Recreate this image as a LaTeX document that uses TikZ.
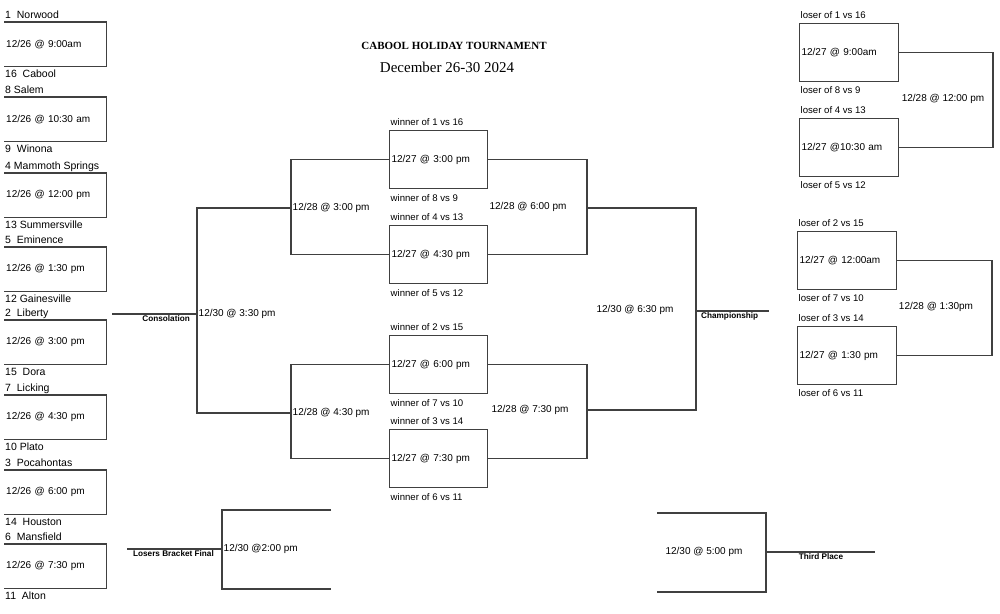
\documentclass[tikz,border=0pt]{standalone}
\usepackage{fontspec}
\setmainfont{Liberation Sans}
\newfontfamily\serifhead{Liberation Serif}
\usepackage{tikz}
\usetikzlibrary{positioning}
\definecolor{bracketgray}{HTML}{404040}

\begin{document}
\begin{tikzpicture}[
        x=1pt, y=-1pt,
        slot/.style={rectangle, minimum height=44pt, text width=98pt, inner sep=2pt, align=left, font=\fontsize{10}{12}\selectfont},
        match/.style={rectangle, draw=bracketgray, line width=1.1pt, minimum height=58pt, text width=94pt, inner sep=2pt, align=left, font=\fontsize{10}{12}\selectfont},
        team/.style={inner sep=1pt, text height=8pt, text depth=2.5pt, font=\fontsize{10.5}{12}\selectfont},
        feed/.style={inner sep=1pt, text height=7.2pt, text depth=2.3pt, font=\fontsize{9.6}{11}\selectfont},
        game/.style={inner sep=1.5pt, font=\fontsize{10}{12}\selectfont},
        tag/.style={inner sep=1pt, text height=6pt, text depth=1.7pt, font=\bfseries\fontsize{8.2}{10}\selectfont},
        line/.style={draw=bracketgray, line width=1.1pt}
    ]

    \useasboundingbox (0,0) rectangle (1000,613);

    % Title
    \node [font=\serifhead\bfseries\fontsize{11}{13}\selectfont] (title) at (454,46) {CABOOL HOLIDAY TOURNAMENT};
    \node [font=\serifhead\fontsize{15}{18}\selectfont] (dates) at (447,67) {December 26-30 2024};

    % First round
    \node [slot, anchor=north west] (r1) at (4,22) {12/26 @ 9:00am};
    \node [slot, anchor=north west] (r2) at (4,97) {12/26 @ 10:30 am};
    \node [slot, anchor=north west] (r3) at (4,173) {12/26 @ 12:00 pm};
    \node [slot, anchor=north west] (r4) at (4,247) {12/26 @ 1:30 pm};
    \node [slot, anchor=north west] (r5) at (4,320) {12/26 @ 3:00 pm};
    \node [slot, anchor=north west] (r6) at (4,395) {12/26 @ 4:30 pm};
    \node [slot, anchor=north west] (r7) at (4,470) {12/26 @ 6:00 pm};
    \node [slot, anchor=north west] (r8) at (4,544) {12/26 @ 7:30 pm};

    % Teams
    \node [team, above right=0pt and 0pt of r1.north west] (norwood) {1~~Norwood};
    \node [team, below right=1.5pt and 0pt of r1.south west] (cabool) {16~~Cabool};
    \node [team, above right=0pt and 0pt of r2.north west] (salem) {8 Salem};
    \node [team, below right=1.5pt and 0pt of r2.south west] (winona) {9~~Winona};
    \node [team, above right=0pt and 0pt of r3.north west] (mammoth) {4 Mammoth Springs};
    \node [team, below right=1.5pt and 0pt of r3.south west] (summersville) {13 Summersville};
    \node [team, above right=0pt and 0pt of r4.north west] (eminence) {5~~Eminence};
    \node [team, below right=1.5pt and 0pt of r4.south west] (gainesville) {12 Gainesville};
    \node [team, above right=0pt and 0pt of r5.north west] (liberty) {2~~Liberty};
    \node [team, below right=1.5pt and 0pt of r5.south west] (dora) {15~~Dora};
    \node [team, above right=0pt and 0pt of r6.north west] (licking) {7~~Licking};
    \node [team, below right=1.5pt and 0pt of r6.south west] (plato) {10 Plato};
    \node [team, above right=0pt and 0pt of r7.north west] (pocahontas) {3~~Pocahontas};
    \node [team, below right=1.5pt and 0pt of r7.south west] (houston) {14~~Houston};
    \node [team, above right=0pt and 0pt of r8.north west] (mansfield) {6~~Mansfield};
    \node [team, below right=1.5pt and 0pt of r8.south west] (alton) {11~~Alton};

    % Winners, 12/27
    \node [match, anchor=north west] (wA) at (389,130) {12/27 @ 3:00 pm};
    \node [match, anchor=north west] (wB) at (389,225) {12/27 @ 4:30 pm};
    \node [match, anchor=north west] (wC) at (389,335) {12/27 @ 6:00 pm};
    \node [match, anchor=north west] (wD) at (389,429) {12/27 @ 7:30 pm};
    \node [feed, above right=1.5pt and 0.5pt of wA.north west] (wA1) {winner of 1 vs 16};
    \node [feed, below right=3.5pt and 0.5pt of wA.south west] (wA2) {winner of 8 vs 9};
    \node [feed, above right=1.5pt and 0.5pt of wB.north west] (wB1) {winner of 4 vs 13};
    \node [feed, below right=3.5pt and 0.5pt of wB.south west] (wB2) {winner of 5 vs 12};
    \node [feed, above right=1.5pt and 0.5pt of wC.north west] (wC1) {winner of 2 vs 15};
    \node [feed, below right=3.5pt and 0.5pt of wC.south west] (wC2) {winner of 7 vs 10};
    \node [feed, above right=1.5pt and 0.5pt of wD.north west] (wD1) {winner of 3 vs 14};
    \node [feed, below right=3.5pt and 0.5pt of wD.south west] (wD2) {winner of 6 vs 11};

    % Losers, 12/27
    \node [match, text width=95pt, anchor=north west] (lA) at (799,23) {12/27 @ 9:00am};
    \node [match, text width=95pt, anchor=north west] (lB) at (799,118) {12/27 @10:30 am};
    \node [match, text width=95pt, anchor=north west] (lC) at (797,231) {12/27 @ 12:00am};
    \node [match, text width=95pt, anchor=north west] (lD) at (797,326) {12/27 @ 1:30 pm};
    \node [feed, above right=1.5pt and 0.5pt of lA.north west] (lA1) {loser of 1 vs 16};
    \node [feed, below right=3pt and 0.5pt of lA.south west] (lA2) {loser of 8 vs 9};
    \node [feed, above right=1.5pt and 0.5pt of lB.north west] (lB1) {loser of 4 vs 13};
    \node [feed, below right=3pt and 0.5pt of lB.south west] (lB2) {loser of 5 vs 12};
    \node [feed, above right=1.5pt and 0.5pt of lC.north west] (lC1) {loser of 2 vs 15};
    \node [feed, below right=3pt and 0.5pt of lC.south west] (lC2) {loser of 7 vs 10};
    \node [feed, above right=1.5pt and 0.5pt of lD.north west] (lD1) {loser of 3 vs 14};
    \node [feed, below right=3pt and 0.5pt of lD.south west] (lD2) {loser of 6 vs 11};

    % Later games
    \node [game, anchor=west] (cs1) at (291,208) {12/28 @ 3:00 pm};
    \node [game, anchor=west] (cs2) at (291,413) {12/28 @ 4:30 pm};
    \node [game, anchor=west] (cf) at (197,314) {12/30 @ 3:30 pm};
    \node [game] (sf1) at (528,207) {12/28 @ 6:00 pm};
    \node [game] (sf2) at (530,410) {12/28 @ 7:30 pm};
    \node [game] (final) at (635,310) {12/30 @ 6:30 pm};
    \node [game, anchor=west] (lf) at (222,549) {12/30 @2:00 pm};
    \node [game] (third) at (704,552) {12/30 @ 5:00 pm};
    \node [game] (lq1) at (943,99) {12/28 @ 12:00 pm};
    \node [game] (lq2) at (936,307) {12/28 @ 1:30pm};

    \coordinate (sf1j) at (587,208);
    \coordinate (sf2j) at (587,410);
    \coordinate (finalj) at (696,311);
    \coordinate (finalend) at (769,311);
    \coordinate (cfend) at (112,314);
    \coordinate (lftop) at (331,510);
    \coordinate (lfbot) at (331,589);
    \coordinate (lfend) at (127,549);
    \coordinate (thirdtop) at (657,513);
    \coordinate (thirdbot) at (657,592);
    \coordinate (thirdj) at (766,552);
    \coordinate (thirdend) at (875,552);
    \coordinate (lq1j) at (993,100);
    \coordinate (lq2j) at (992,307);

    \node [tag, below left=0pt and 6pt of cf.west] (conslabel) {Consolation};
    \node [tag, below right=0pt and 4pt of finalj] (champlabel) {Championship};
    \node [tag, below left=0pt and 7pt of lf.west] (lflabel) {Losers Bracket Final};
    \node [tag, below=0pt of thirdj, xshift=55pt] (thirdlabel) {Third Place};

    % Edges
    \path [line] (r1.north west) -| (r1.south east) -- (r1.south west);
    \path [line] (r2.north west) -| (r2.south east) -- (r2.south west);
    \path [line] (r3.north west) -| (r3.south east) -- (r3.south west);
    \path [line] (r4.north west) -| (r4.south east) -- (r4.south west);
    \path [line] (r5.north west) -| (r5.south east) -- (r5.south west);
    \path [line] (r6.north west) -| (r6.south east) -- (r6.south west);
    \path [line] (r7.north west) -| (r7.south east) -- (r7.south west);
    \path [line] (r8.north west) -| (r8.south east) -- (r8.south west);

    \path [line] (wA.west) -| (cs1.west) |- (wB.west);
    \path [line] (wC.west) -| (cs2.west) |- (wD.west);
    \path [line] (cs1.west) -| (cf.west) |- (cs2.west);
    \path [line] (cf.west) -- (cfend);
    \path [line] (wA.east) -| (sf1j) |- (wB.east);
    \path [line] (wC.east) -| (sf2j) |- (wD.east);
    \path [line] (sf1j) -| (finalj) |- (sf2j);
    \path [line] (finalj) -- (finalend);
    \path [line] (lftop) -| (lf.west) |- (lfbot);
    \path [line] (lf.west) -- (lfend);
    \path [line] (thirdtop) -| (thirdj) |- (thirdbot);
    \path [line] (thirdj) -- (thirdend);
    \path [line] (lA.east) -| (lq1j) |- (lB.east);
    \path [line] (lC.east) -| (lq2j) |- (lD.east);

\end{tikzpicture}
\end{document}
